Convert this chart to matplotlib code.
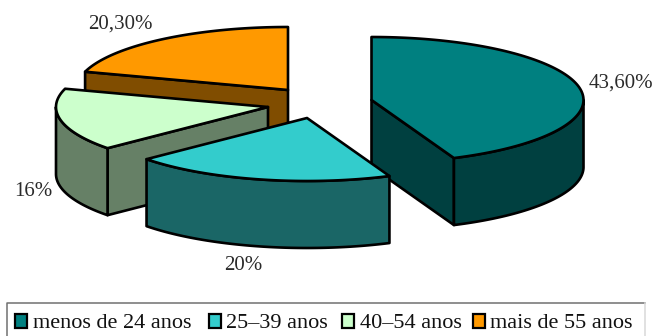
import numpy as np
import matplotlib
matplotlib.use("Agg")
import matplotlib.pyplot as plt
from matplotlib.patches import Polygon, Rectangle

# Age groups and their share of respondents
categories = ["menos de 24 anos", "25–39 anos", "40–54 anos", "mais de 55 anos"]
shares = [43.6, 20.0, 16.0, 20.3]
share_labels = ["43,60%", "20%", "16%", "20,30%"]
top_colors = ["#008080", "#33CCCC", "#CCFFCC", "#FF9900"]
side_colors = ["#004040", "#1A6666", "#668066", "#804D00"]

# Pie geometry in pixels, each slice with its own exploded centre
RX, RY, DEPTH = 212, 63, 67
centers = [(371.5, 100), (307, 118), (268, 107), (288, 90)]
draw_order = [3, 2, 0, 1]
label_pos = [(589, 83), (224, 266), (14, 191), (88, 24)]

plt.rcParams["font.family"] = ["Liberation Serif", "DejaVu Serif"]
fig = plt.figure(figsize=(6.57, 3.36), dpi=100)
ax = fig.add_axes([0, 0, 1, 1])
ax.set_xlim(0, 657)
ax.set_ylim(336, 0)
ax.axis("off")


def rim(cx, cy, a0, a1, n=120):
    """Points on the slice rim; angles run clockwise from twelve o'clock."""
    t = np.radians(np.linspace(a0, a1, n))
    return np.column_stack([cx + RX * np.sin(t), cy - RY * np.cos(t)])


total = sum(shares)
edges = np.concatenate([[0], np.cumsum(shares) / total * 360])
LW = 1.9

for z, i in enumerate(draw_order):
    cx, cy = centers[i]
    a0, a1 = edges[i], edges[i + 1]
    kw = dict(edgecolor="black", linewidth=LW, joinstyle="round", zorder=z + 1)
    down = np.array([0, DEPTH])
    # Radial walls that face the viewer
    for ang, normal in ((a0, a0 - 90), (a1, a1 + 90)):
        if np.cos(np.radians(normal)) < -1e-6:
            p = rim(cx, cy, ang, ang, 1)[0]
            c = np.array([cx, cy])
            ax.add_patch(Polygon([c, p, p + down, c + down], facecolor=side_colors[i], **kw))
    # Curved outer wall on the front half of the ellipse
    lo, hi = max(a0, 90), min(a1, 270)
    if hi > lo:
        arc = rim(cx, cy, lo, hi)
        ax.add_patch(Polygon(np.vstack([arc, arc[::-1] + down]), facecolor=side_colors[i], **kw))
    # Top face
    top = np.vstack([[cx, cy], rim(cx, cy, a0, a1)])
    ax.add_patch(Polygon(top, facecolor=top_colors[i], **kw))

for (x, y), s in zip(label_pos, share_labels):
    ax.text(x, y, s, fontsize=15, color="#2a2a2a", ha="left", va="center", zorder=20)

# Legend strip along the bottom; its lower edge runs off the canvas
ax.plot([7, 7, 645], [336, 303, 303], color="#707070", linewidth=1.1, zorder=20)
ax.plot([645, 645], [303, 336], color="#d8d8d8", linewidth=1.1, zorder=20)
swatch_x = [15, 208.5, 342, 473]
text_x = [33, 225.5, 360, 490]
for sx, tx, name, col in zip(swatch_x, text_x, categories, top_colors):
    ax.add_patch(Rectangle((sx, 314), 12, 14, facecolor=col, edgecolor="black", linewidth=1.6, zorder=21))
    ax.text(tx, 328, name, fontsize=16, color="#111111", ha="left", va="baseline", zorder=21)

fig.savefig("out.png", dpi=100)
